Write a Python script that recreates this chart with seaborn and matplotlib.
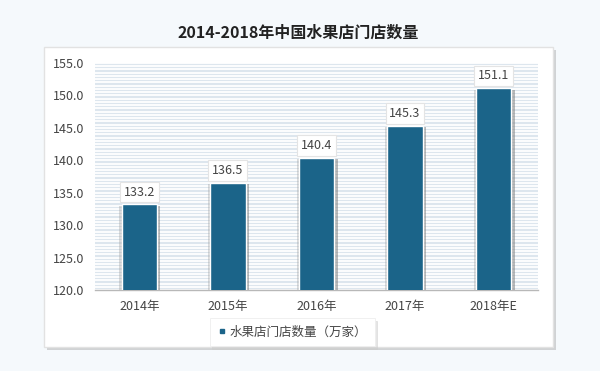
import numpy as np
import pandas as pd
import matplotlib
matplotlib.use('Agg')
import matplotlib.pyplot as plt
import matplotlib.patheffects as pe
from matplotlib.patches import FancyBboxPatch
from matplotlib.lines import Line2D
import seaborn as sns

"""
Data
"""
years = ['2014年', '2015年', '2016年', '2017年', '2018年E']
stores = [133.2, 136.5, 140.4, 145.3, 151.1]
series_name = '水果店门店数量（万家）'
title = '2014-2018年中国水果店门店数量'

BAR = '#1b6489'
TXT = '#444444'

sns.set_theme(style='white')
plt.rcParams['font.family'] = ['Noto Sans CJK SC', 'DejaVu Sans']

df = pd.DataFrame({'year': years, 'stores': stores})

fig = plt.figure(figsize=(6, 3.71), dpi=100)
fig.patch.set_facecolor('#f5f9fc')

# white panel with soft shadow, kept behind the axes
panel = FancyBboxPatch((0.0733, 0.0647), 0.848, 0.808, boxstyle='square,pad=0',
                       transform=fig.transFigure, facecolor='white', edgecolor='#e2e2e2',
                       lw=1.0, zorder=-5,
                       path_effects=[pe.SimplePatchShadow(offset=(2, -2), shadow_rgbFace='#999999', alpha=0.4),
                                     pe.Normal()])
fig.patches.append(panel)

fig.text(0.497, 0.912, title, ha='center', va='center', fontsize=11.5, fontweight='bold', color='#222222')

ax = fig.add_axes([0.1583, 0.2183, 0.738, 0.612])
ax.set_zorder(2)
ax.set_facecolor('#dde6ee')

# striped background
for y in np.arange(120, 155.01, 0.5):
    ax.axhline(y, color='white', lw=1.3, zorder=0)

sns.barplot(data=df, x='year', y='stores', color=BAR, width=0.4, saturation=1, ax=ax, zorder=3)
for bar in ax.patches:
    bar.set_path_effects([pe.SimplePatchShadow(offset=(2.5, -1), shadow_rgbFace='#777777', alpha=0.5),
                          pe.SimplePatchShadow(offset=(-1.5, -1), shadow_rgbFace='#999999', alpha=0.35),
                          pe.Normal()])

for i, v in enumerate(stores):
    ax.text(i, v + 0.9, f'{v:.1f}', ha='center', va='bottom', fontsize=9, color=TXT, zorder=5,
            bbox=dict(boxstyle='square,pad=0.3', facecolor='white', edgecolor='#e4e4e4', lw=0.8))

ax.set_ylim(120, 155)
ax.set_xlim(-0.5, 4.5)
ax.set_yticks(np.arange(120, 155.1, 5))
ax.set_yticklabels([f'{t:.1f}' for t in np.arange(120, 155.1, 5)])
ax.set_xlabel('')
ax.set_ylabel('')
ax.tick_params(axis='both', length=0, labelsize=9, colors=TXT)
ax.tick_params(axis='x', pad=7)
ax.tick_params(axis='y', pad=8)
for s in ['top', 'right', 'left']:
    ax.spines[s].set_visible(False)
ax.spines['bottom'].set_color('#b8b8b8')
ax.spines['bottom'].set_linewidth(1.0)

handle = Line2D([], [], marker='s', color=BAR, linestyle='none', markersize=3.5)
leg = fig.legend([handle], [series_name], loc='center', bbox_to_anchor=(0.487, 0.105),
                 fontsize=9, frameon=True, fancybox=False,
                 shadow={'color': '#cccccc', 'alpha': 0.5, 'ox': 2, 'oy': -2},
                 handletextpad=0.2, borderpad=0.6, handlelength=0.8)
leg.get_frame().set_edgecolor('#eeeeee')
leg.get_frame().set_linewidth(0.6)
for t in leg.get_texts():
    t.set_color(TXT)

fig.savefig('out.png', dpi=100, facecolor=fig.get_facecolor())
